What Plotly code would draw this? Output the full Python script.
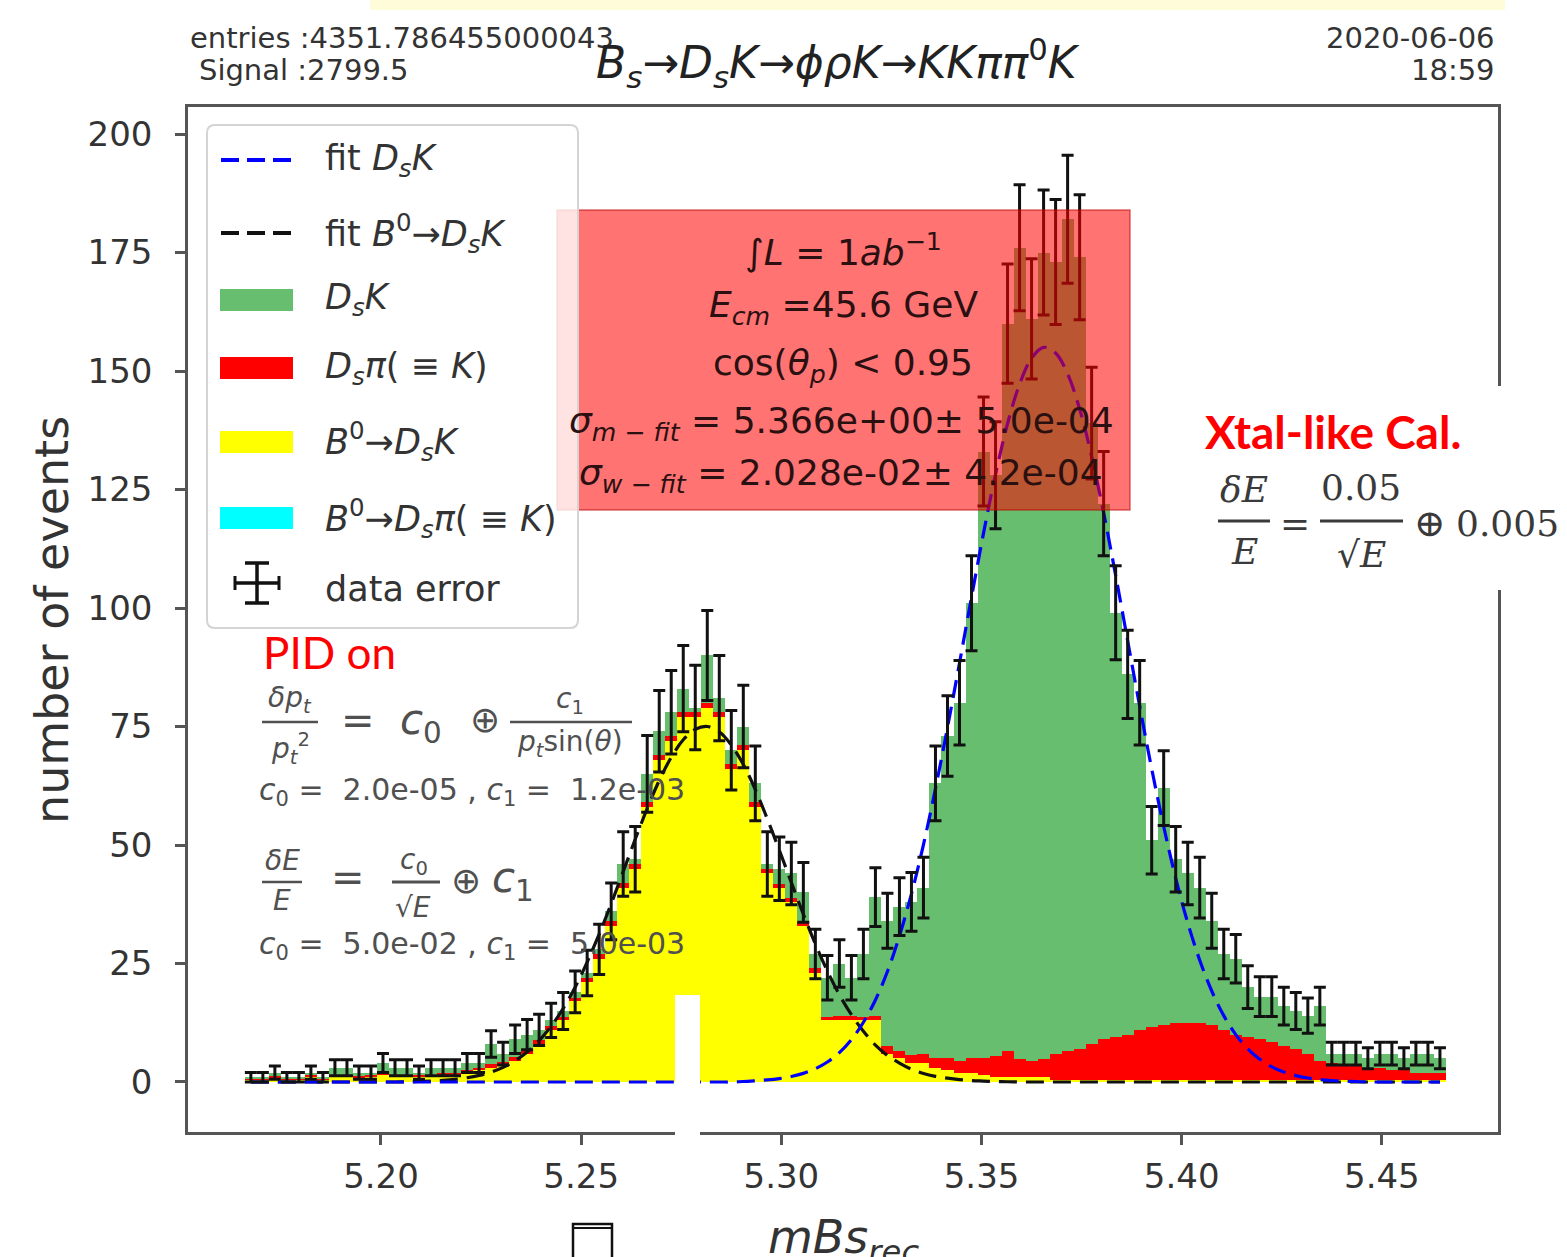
import numpy as np
import plotly.graph_objects as go

# ---------------- binning (100 bins of 0.003 from 5.166) ----------------
BIN_LO = 5.166
BIN_W = 0.003
N_BINS = 100
bin_centers = np.round(BIN_LO + BIN_W * (np.arange(N_BINS) + 0.5), 5)

# ---------------- values ----------------
data_counts = [
    1, 1, 2, 1, 1, 2, 1, 3, 3, 2,
    2, 4, 3, 3, 2, 3, 3, 3, 4, 4,
    8, 6, 9, 10, 11, 13, 15, 19, 23, 28,
    36, 46, 47, 65, 74, 78, 83, 79, 90, 81,
    70, 75, 63, 46, 45, 44, 40, 27, 22, 25,
    22, 27, 39, 34, 37, 38, 41, 63, 73, 80,
    101, 133, 128, 160, 176, 161, 175, 173, 182, 174,
    139, 122, 99, 86, 80, 51, 62, 47, 44, 41,
    34, 27, 26, 20, 18, 18, 16, 15, 14, 16,
    6, 6, 6, 5, 6, 6, 5, 6, 6, 5,
]
data_err = [
    1.0, 1.0, 1.4, 1.0, 1.0, 1.4, 1.0, 1.7, 1.7, 1.4,
    1.4, 2.0, 1.7, 1.7, 1.4, 1.7, 1.7, 1.7, 2.0, 2.0,
    2.8, 2.4, 3.0, 3.2, 3.3, 3.6, 3.9, 4.4, 4.8, 5.3,
    6.0, 6.8, 6.9, 8.1, 8.6, 8.8, 9.1, 8.9, 9.5, 9.0,
    8.4, 8.7, 7.9, 6.8, 6.7, 6.6, 6.3, 5.2, 4.7, 5.0,
    4.7, 5.2, 6.2, 5.8, 6.1, 6.2, 6.4, 7.9, 8.5, 8.9,
    10.0, 11.5, 11.3, 12.6, 13.3, 12.7, 13.2, 13.2, 13.5, 13.2,
    11.8, 11.0, 9.9, 9.3, 8.9, 7.1, 7.9, 6.9, 6.6, 6.4,
    5.8, 5.2, 5.1, 4.5, 4.2, 4.2, 4.0, 3.9, 3.7, 4.0,
    2.4, 2.4, 2.4, 2.2, 2.4, 2.4, 2.2, 2.4, 2.4, 2.2,
]
b0_dsk = [  # yellow  B0 -> DsK
    0.5, 0.5, 1, 0.5, 0.5, 1, 0.5, 1, 1, 1,
    1, 1.5, 1, 1, 1, 1, 1.5, 1.5, 2, 2.5,
    3, 3.5, 4.5, 6, 8, 11, 13, 17, 21, 26,
    33, 41, 45, 58, 68, 72, 77, 77, 79, 77,
    66, 70, 58, 44, 41, 38, 33, 23, 13, 13,
    13, 13, 13, 6, 5, 4, 4, 3, 2.5, 2,
    2, 1.5, 1, 1, 1, 1, 1, 0.5, 0.5, 0.5,
    0.5, 0.5, 0.5, 0.5, 0.5, 0.5, 0.5, 0.5, 0.5, 0.5,
    0.5, 0.5, 0.5, 0.5, 0.5, 0.5, 0.5, 0.5, 0.5, 0.5,
    0.5, 0.5, 0.5, 0.5, 0.5, 0.5, 0.5, 0.5, 0.5, 0.5,
]
ds_pi = [  # red  Ds pi (=K)
    0.3, 0.3, 0.3, 0.3, 0.3, 0.5, 0.3, 0.5, 0.5, 0.3,
    0.5, 0.5, 0.5, 0.5, 0.5, 0.5, 0.5, 0.5, 0.5, 0.5,
    0.8, 0.8, 0.8, 0.8, 0.8, 0.8, 0.8, 0.8, 1, 1,
    1, 1, 1, 1, 1, 1, 1, 1, 1, 1,
    1, 1, 1, 1, 0.8, 0.8, 0.8, 1, 0.8, 1,
    1, 0.8, 1, 1.5, 1.5, 1.8, 2, 2, 2.5, 2.5,
    3, 3.5, 4.5, 5.5, 3.8, 3.5, 3.8, 5.5, 6, 6.5,
    7.5, 8.5, 9, 9.5, 10.5, 11, 11.5, 12, 12, 12,
    11.5, 10.5, 9.5, 9, 8.5, 8, 7, 6.5, 5.5, 4,
    3.5, 3, 3, 2.5, 2.5, 2, 2, 1.5, 1.5, 1.5,
]
b0_ds_pi = [0] * 100  # cyan  B0 -> Ds pi (=K): empty in the picture

fit_dsk = [
    0, 0, 0, 0, 0, 0, 0, 0, 0, 0,
    0, 0, 0, 0, 0, 0, 0, 0, 0, 0,
    0, 0, 0, 0, 0, 0, 0, 0, 0, 0,
    0, 0, 0, 0, 0, 0, 0, 0, 0, 0,
    0, 0.1, 0.26, 0.44, 0.72, 1.16, 1.82, 2.80, 4.21, 6.20,
    8.92, 12.6, 17.3, 23.3, 30.8, 39.7, 50.1, 61.9, 74.8, 88.4,
    102.3, 115.8, 128.2, 138.9, 147.2, 152.7, 155.0, 153.8, 149.4, 142.0,
    132.0, 120.1, 106.9, 93.1, 79.3, 66.1, 53.9, 43.0, 33.6, 25.7,
    19.2, 14.0, 10.0, 7.0, 4.8, 3.2, 2.1, 1.35, 0.85, 0.52,
    0.31, 0.18, 0.1, 0, 0, 0, 0, 0, 0, 0,
]
fit_b0 = [
    0, 0, 0, 0, 0, 0, 0, 0, 0, 0,
    0, 0, 0, 0.05, 0.13, 0.21, 0.35, 0.57, 0.90, 1.39,
    2.09, 3.09, 4.47, 6.31, 8.71, 11.76, 15.5, 20.0, 25.3, 31.2,
    37.6, 44.4, 51.2, 57.7, 63.6, 68.5, 72.2, 74.4, 75.0, 73.9,
    71.1, 67.0, 61.7, 55.5, 48.9, 42.1, 35.4, 29.1, 23.4, 18.4,
    14.2, 10.7, 7.8, 5.6, 4.0, 2.7, 1.8, 1.2, 0.8, 0.5,
    0.3, 0.2, 0.1, 0.05, 0, 0, 0, 0, 0, 0,
    0, 0, 0, 0, 0, 0, 0, 0, 0, 0,
    0, 0, 0, 0, 0, 0, 0, 0, 0, 0,
    0, 0, 0, 0, 0, 0, 0, 0, 0, 0,
]

# green = what remains of the data above the other stacked components
ds_k = np.clip(np.array(data_counts, float) - np.array(b0_dsk) - np.array(ds_pi)
               - np.array(b0_ds_pi), 0, None)

x_ticks = [5.20, 5.25, 5.30, 5.35, 5.40, 5.45]
y_ticks = [0, 25, 50, 75, 100, 125, 150, 175, 200]

GREEN = "rgb(102,190,110)"
FONT = "DejaVu Sans"

# ---------------- figure ----------------
fig = go.Figure()
for vals, col in [(b0_ds_pi, "#00FFFF"), (b0_dsk, "#FFFF00"), (ds_pi, "#FF0000"), (ds_k, GREEN)]:
    fig.add_trace(go.Bar(x=bin_centers, y=vals, width=BIN_W, marker=dict(color=col, line=dict(width=0)),
                         hoverinfo="skip"))

fig.add_trace(go.Scatter(x=bin_centers, y=fit_b0, mode="lines",
                         line=dict(color="#111111", width=3.2, dash="18px,9px", shape="spline")))
fig.add_trace(go.Scatter(x=bin_centers, y=fit_dsk, mode="lines",
                         line=dict(color="#0000FF", width=3.2, dash="18px,9px", shape="spline")))
fig.add_trace(go.Scatter(x=bin_centers, y=data_counts, mode="markers",
                         marker=dict(size=2, color="rgba(0,0,0,0)"),
                         error_y=dict(type="data", array=data_err, color="#111111", thickness=3, width=6)))

# ---------------- geometry helpers (pixel -> paper) ----------------
W, H = 1567, 1257
L, R, T, B = 188, 1498, 107, 1132


def px(x):
    return (x - L) / (R - L)


def py(y):
    return (B - y) / (B - T)


annotations = []
shapes = []


def txt(x, y, s, size, color="#333333", xanchor="left", family=FONT, angle=0):
    annotations.append(dict(x=px(x), y=py(y), xref="paper", yref="paper", text=s, showarrow=False,
                            xanchor=xanchor, yanchor="middle", textangle=angle,
                            font=dict(size=size, color=color, family=family)))


def rect(x0, y0, x1, y1, fill, line_color=None, lw=0, layer="above"):
    shapes.append(dict(type="rect", xref="paper", yref="paper", x0=px(x0), x1=px(x1), y0=py(y1), y1=py(y0),
                       fillcolor=fill, line=dict(color=line_color or fill, width=lw), layer=layer))


def seg(x0, y0, x1, y1, color, lw, dash="solid"):
    shapes.append(dict(type="line", xref="paper", yref="paper", x0=px(x0), x1=px(x1), y0=py(y0), y1=py(y1),
                       line=dict(color=color, width=lw, dash=dash), layer="above"))


def rounded(x0, y0, x1, y1, r, fill, line_color, lw):
    X = lambda v: f"{px(v):.5f}"
    Y = lambda v: f"{py(v):.5f}"
    path = (f"M{X(x0 + r)},{Y(y0)} L{X(x1 - r)},{Y(y0)} Q{X(x1)},{Y(y0)} {X(x1)},{Y(y0 + r)} "
            f"L{X(x1)},{Y(y1 - r)} Q{X(x1)},{Y(y1)} {X(x1 - r)},{Y(y1)} "
            f"L{X(x0 + r)},{Y(y1)} Q{X(x0)},{Y(y1)} {X(x0)},{Y(y1 - r)} "
            f"L{X(x0)},{Y(y0 + r)} Q{X(x0)},{Y(y0)} {X(x0 + r)},{Y(y0)} Z")
    shapes.append(dict(type="path", xref="paper", yref="paper", path=path, fillcolor=fill,
                       line=dict(color=line_color, width=lw), layer="above"))


# ---------------- overlays ----------------
# pale yellow band at the very top
rect(370, 0, 1505, 10, "rgb(255,252,217)")
# white patches
rect(675, 995, 700, 1142, "white")
rect(1186, 386, 1567, 590, "white")
# red info box
rect(557, 210, 1130, 510, "rgba(255,0,0,0.55)", "rgba(190,0,0,0.55)", 1.5)
# legend frame
rounded(207, 125, 578, 628, 8, "rgba(255,255,255,0.8)", "#d4d4d4", 2)

# legend symbols
seg(221, 160, 293, 160, "#0000FF", 4, "18px,8px")
seg(221, 233, 293, 233, "#111111", 4, "18px,8px")
rect(220, 289, 293, 311, GREEN)
rect(220, 357, 293, 379, "#FF0000")
rect(220, 431, 293, 453, "#FFFF00")
rect(220, 507, 293, 529, "#00FFFF")
seg(257, 563, 257, 603, "#111111", 3.5)
seg(245, 563, 269, 563, "#111111", 3.5)
seg(245, 603, 269, 603, "#111111", 3.5)
seg(235, 583, 279, 583, "#111111", 3.5)
seg(235, 576, 235, 590, "#111111", 3)
seg(279, 576, 279, 590, "#111111", 3)

LEG = 35
txt(323, 160, "fit <i>D<sub>s</sub>K</i>", LEG)
txt(323, 233, "fit <i>B</i><sup>0</sup>→<i>D<sub>s</sub>K</i>", LEG)
txt(323, 300, "<i>D<sub>s</sub>K</i>", LEG)
txt(323, 368, "<i>D<sub>s</sub>π</i>( ≡ <i>K</i>)", LEG)
txt(323, 442, "<i>B</i><sup>0</sup>→<i>D<sub>s</sub>K</i>", LEG)
txt(323, 518, "<i>B</i><sup>0</sup>→<i>D<sub>s</sub>π</i>( ≡ <i>K</i>)", LEG)
txt(323, 589, "data error", LEG)

# header texts
txt(188, 38, "entries :4351.786455000043", 29)
txt(197, 70, "Signal :2799.5", 29)
txt(1497, 38, "2020-06-06", 29, xanchor="right")
txt(1497, 70, "18:59", 29, xanchor="right")
txt(838, 63, "<i>B<sub>s</sub></i>→<i>D<sub>s</sub>K</i>→<i>ϕρK</i>→<i>KKππ</i><sup>0</sup><i>K</i>", 44,
    color="#222222", xanchor="center")

# axis titles
txt(52, 620, "number of events", 46, xanchor="center", angle=-90)
txt(843, 1240, "<i>mBs<sub>rec</sub></i>", 46, xanchor="center")
# missing-glyph box under the axis
rect(573, 1224, 612, 1275, "rgba(0,0,0,0)", "#111111", 2.5)
seg(573, 1228, 612, 1228, "#111111", 2)

# red box texts
BOX = 36
txt(843, 250, "∫<i>L</i> = 1<i>ab</i><sup>−1</sup>", BOX, color="#2a1010", xanchor="center")
txt(843, 308, "<i>E<sub>cm</sub></i> =45.6 GeV", BOX, color="#2a1010", xanchor="center")
txt(843, 365, "cos(<i>θ<sub>p</sub></i>) &lt; 0.95", BOX, color="#2a1010", xanchor="center")
txt(841, 423, "<i>σ<sub>m − fit</sub></i> = 5.366e+00± 5.0e-04", BOX, color="#2a1010", xanchor="center")
txt(841, 475, "<i>σ<sub>w − fit</sub></i> = 2.028e-02± 4.2e-04", BOX, color="#2a1010", xanchor="center")

# right-hand calorimeter block
txt(1203, 432, "<b>Xtal-like Cal.</b>", 46, color="#FF0000", family="Lato")
SER = "DejaVu Serif"
txt(1244, 489, "<i>δE</i>", 36, color="#3a3a3a", xanchor="center", family=SER)
seg(1218, 521, 1270, 521, "#3a3a3a", 3)
txt(1244, 551, "<i>E</i>", 36, color="#3a3a3a", xanchor="center", family=SER)
txt(1295, 523, "=", 36, color="#3a3a3a", xanchor="center", family=SER)
txt(1361, 487, "0.05", 36, color="#3a3a3a", xanchor="center", family=SER)
seg(1320, 521, 1403, 521, "#3a3a3a", 3)
txt(1361, 554, "√<i>E</i>", 36, color="#3a3a3a", xanchor="center", family=SER)
txt(1430, 523, "⊕", 38, color="#3a3a3a", xanchor="center", family=SER)
txt(1454, 523, "0.005", 36, color="#3a3a3a", family=SER)

# left-hand tracker block
GR = "#505050"
txt(261, 652, "PID on", 44, color="#FF0000", family="Lato")
txt(290, 699, "<i>δp<sub>t</sub></i>", 28, color=GR, xanchor="center")
seg(262, 722, 318, 722, GR, 2.5)
txt(290, 748, "<i>p<sub>t</sub></i><sup>2</sup>", 28, color=GR, xanchor="center")
txt(358, 720, "=", 40, color=GR, xanchor="center")
txt(398, 722, "<i>c</i><sub>0</sub>", 42, color=GR)
txt(485, 719, "⊕", 36, color=GR, xanchor="center")
txt(570, 700, "<i>c</i><sub>1</sub>", 28, color=GR, xanchor="center")
seg(510, 722, 632, 722, GR, 2.5)
txt(570, 743, "<i>p<sub>t</sub></i>sin(<i>θ</i>)", 28, color=GR, xanchor="center")
txt(257, 792, "<i>c</i><sub>0</sub> =  2.0e-05 , <i>c</i><sub>1</sub> =  1.2e-03", 30, color=GR)

txt(282, 860, "<i>δE</i>", 28, color=GR, xanchor="center")
seg(262, 882, 302, 882, GR, 2.5)
txt(282, 900, "<i>E</i>", 28, color=GR, xanchor="center")
txt(348, 877, "=", 40, color=GR, xanchor="center")
txt(414, 861, "<i>c</i><sub>0</sub>", 28, color=GR, xanchor="center")
seg(392, 882, 440, 882, GR, 3)
txt(413, 907, "√<i>E</i>", 28, color=GR, xanchor="center")
txt(466, 880, "⊕", 36, color=GR, xanchor="center")
txt(490, 880, "<i>c</i><sub>1</sub>", 42, color=GR)
txt(257, 945, "<i>c</i><sub>0</sub> =  5.0e-02 , <i>c</i><sub>1</sub> =  5.0e-03", 30, color=GR)

axis_common = dict(showline=True, linecolor="#555555", linewidth=2.5, mirror=True, ticks="outside",
                   ticklen=10, tickwidth=2.5, tickcolor="#555555", showgrid=False, zeroline=False,
                   tickfont=dict(family=FONT, size=34, color="#333333"))

fig.update_layout(
    width=W, height=H,
    margin=dict(l=L, r=W - R, t=T, b=H - B, pad=0),
    paper_bgcolor="white", plot_bgcolor="white",
    barmode="stack", bargap=0, showlegend=False,
    xaxis=dict(range=[5.1518, 5.4790], tickvals=x_ticks, ticktext=[f"{v:.2f}" for v in x_ticks],
               ticklabelstandoff=2, **axis_common),
    yaxis=dict(range=[-10.55, 205.7], tickvals=y_ticks, ticktext=[str(v) for v in y_ticks],
               ticklabelstandoff=16, **axis_common),
    annotations=annotations, shapes=shapes,
)

fig.write_html("out.html")
